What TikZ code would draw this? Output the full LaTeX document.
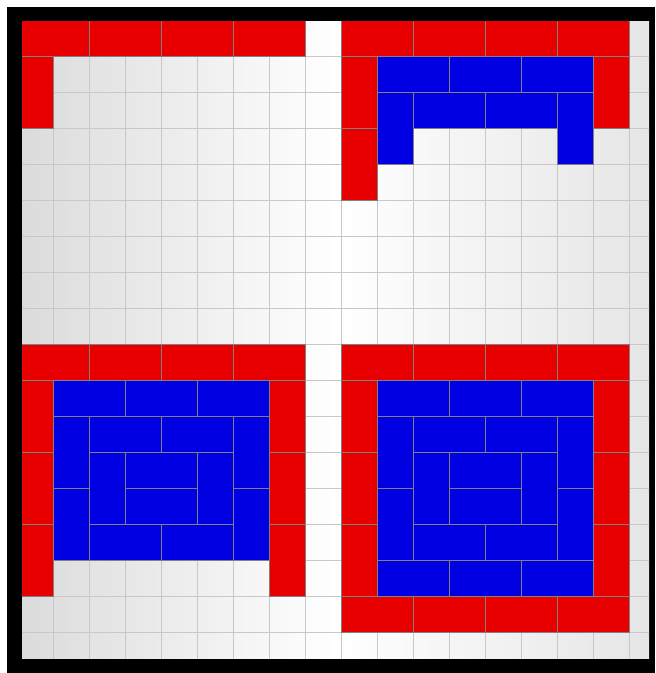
\documentclass[tikz,border=0pt]{standalone}
\definecolor{tilered}{RGB}{232,0,0}
\definecolor{tileblue}{RGB}{0,0,226}
\definecolor{tileedge}{RGB}{128,128,128}
\definecolor{gridline}{RGB}{200,200,200}
\tikzset{
	redtile/.style={draw=tileedge, fill=tilered, line width=0.7pt},
	bluetile/.style={draw=tileedge, fill=tileblue, line width=0.7pt},
	gridlines/.style={draw=gridline, line width=0.5pt},
	board/.style={left color=gray!28, right color=gray!20, middle color=white}
}
% one domino: style, column, row (from the top)
\newcommand{\hdomino}[3]{\draw[#1] (#2,#3) rectangle ++(2,1);}
\newcommand{\vdomino}[3]{\draw[#1] (#2,#3) rectangle ++(1,2);}

\begin{document}
\begin{tikzpicture}[x=0.5pt, y=-0.5pt]
	\useasboundingbox (0,0) rectangle (655,673);
	\fill[white] (0,0) rectangle (655,673);
	\fill[black] (7,7) rectangle (655,673);
	\begin{scope}
		\clip (22,22) rectangle (649,658);
		\shade[board] (22,22) rectangle (649,658);
		\begin{scope}[shift={(17.3,20.7)}, x=18pt, y=-18pt]
			\foreach \k in {0,...,18} {
				\draw[gridlines] (\k,0) -- (\k,18);
				\draw[gridlines] (0,\k) -- (18,\k);
			}
			% top left
			\foreach \c in {0,2,4,6} {\hdomino{redtile}{\c}{0}}
			\vdomino{redtile}{0}{1}
			% top right
			\foreach \c in {9,11,13,15} {\hdomino{redtile}{\c}{0}}
			\foreach \c/\r in {9/1, 9/3, 16/1} {\vdomino{redtile}{\c}{\r}}
			\foreach \c/\r in {10/1, 12/1, 14/1, 11/2, 13/2} {\hdomino{bluetile}{\c}{\r}}
			\foreach \c/\r in {10/2, 15/2} {\vdomino{bluetile}{\c}{\r}}
			% the two bottom squares
			\foreach \ox in {0,9} {
				\foreach \c in {0,2,4,6} {\hdomino{redtile}{\ox+\c}{9}}
				\foreach \c/\r in {0/10, 0/12, 0/14, 7/10, 7/12, 7/14} {\vdomino{redtile}{\ox+\c}{\r}}
				\foreach \c/\r in {1/10, 3/10, 5/10, 2/11, 4/11, 3/12, 3/13, 2/14, 4/14} {\hdomino{bluetile}{\ox+\c}{\r}}
				\foreach \c/\r in {1/11, 1/13, 6/11, 6/13, 2/12, 5/12} {\vdomino{bluetile}{\ox+\c}{\r}}
			}
			% bottom right is closed
			\foreach \c in {10,12,14} {\hdomino{bluetile}{\c}{15}}
			\foreach \c in {9,11,13,15} {\hdomino{redtile}{\c}{16}}
		\end{scope}
	\end{scope}
\end{tikzpicture}
\end{document}
